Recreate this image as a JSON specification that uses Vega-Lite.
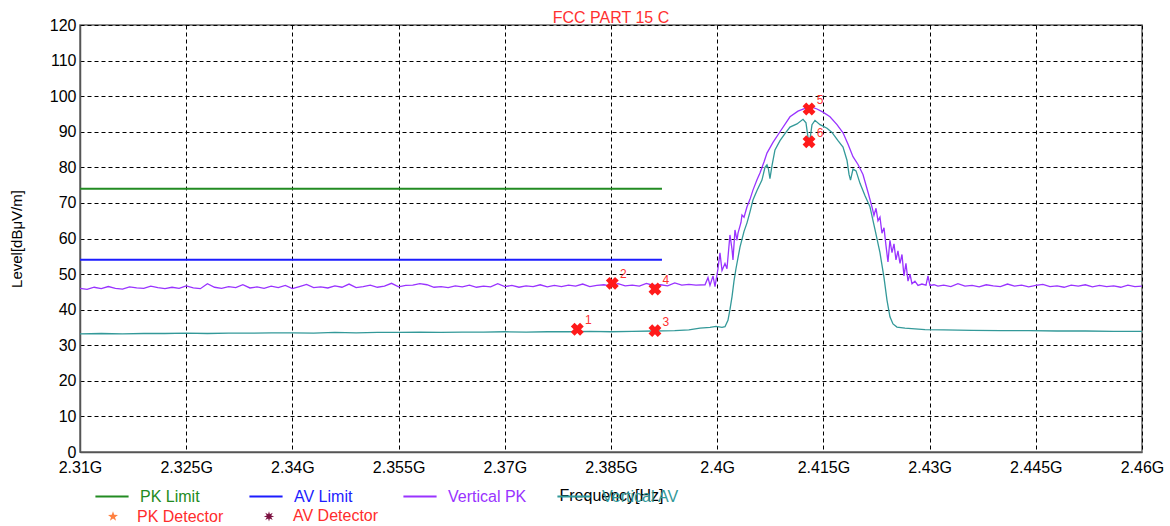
{
"$schema": "https://vega.github.io/schema/vega-lite/v6.json",
"width": 1062, "height": 427,
"autosize": {"type": "none"},
"padding": {"left": 80, "top": 25, "right": 28, "bottom": 74},
"background": "white",
"config": {"font": "Liberation Sans", "view": {"stroke": "#666", "strokeWidth": 1.5}},
"title": {"text": "FCC PART 15 C", "color": "#ff3030", "fontSize": 16, "fontWeight": "normal", "offset": -9, "anchor": "middle", "font": "Liberation Sans"},
"datasets": {
"lim": [{"f":2.31,"v":74,"s":"PK Limit"},{"f":2.3922,"v":74,"s":"PK Limit"},{"f":2.31,"v":54,"s":"AV Limit"},{"f":2.3922,"v":54,"s":"AV Limit"}],
"pk": [
{"f":2.310,"v":46.0},{"f":2.311,"v":45.7},{"f":2.312,"v":46.3},{"f":2.313,"v":45.9},{"f":2.314,"v":46.5},{"f":2.315,"v":46.0},{"f":2.316,"v":45.8},{"f":2.317,"v":46.4},{"f":2.318,"v":46.1},{"f":2.319,"v":46.0},
{"f":2.320,"v":46.6},{"f":2.321,"v":46.2},{"f":2.322,"v":45.9},{"f":2.323,"v":46.3},{"f":2.324,"v":46.0},{"f":2.325,"v":46.7},{"f":2.326,"v":46.1},{"f":2.327,"v":45.9},{"f":2.328,"v":47.3},{"f":2.329,"v":46.3},
{"f":2.330,"v":46.0},{"f":2.331,"v":46.5},{"f":2.332,"v":46.2},{"f":2.333,"v":47.0},{"f":2.334,"v":46.1},{"f":2.335,"v":46.4},{"f":2.336,"v":46.0},{"f":2.337,"v":46.6},{"f":2.338,"v":46.2},{"f":2.339,"v":46.8},
{"f":2.340,"v":45.9},{"f":2.341,"v":46.5},{"f":2.342,"v":47.1},{"f":2.343,"v":46.2},{"f":2.344,"v":46.4},{"f":2.345,"v":46.1},{"f":2.346,"v":46.7},{"f":2.347,"v":46.3},{"f":2.348,"v":47.2},{"f":2.349,"v":46.2},
{"f":2.350,"v":46.5},{"f":2.351,"v":46.9},{"f":2.352,"v":46.3},{"f":2.353,"v":46.6},{"f":2.354,"v":47.4},{"f":2.355,"v":46.4},{"f":2.356,"v":46.8},{"f":2.357,"v":46.9},{"f":2.358,"v":47.3},{"f":2.359,"v":47.0},
{"f":2.360,"v":46.3},{"f":2.361,"v":46.5},{"f":2.362,"v":46.2},{"f":2.363,"v":46.7},{"f":2.364,"v":46.4},{"f":2.365,"v":46.9},{"f":2.366,"v":46.3},{"f":2.367,"v":46.6},{"f":2.368,"v":46.4},{"f":2.369,"v":47.3},
{"f":2.370,"v":46.5},{"f":2.371,"v":46.8},{"f":2.372,"v":46.3},{"f":2.373,"v":46.7},{"f":2.374,"v":46.5},{"f":2.375,"v":47.0},{"f":2.376,"v":46.4},{"f":2.377,"v":46.8},{"f":2.378,"v":46.5},{"f":2.379,"v":46.9},
{"f":2.380,"v":46.6},{"f":2.381,"v":47.2},{"f":2.382,"v":46.5},{"f":2.383,"v":46.8},{"f":2.384,"v":47.0},{"f":2.385,"v":46.6},{"f":2.386,"v":47.3},{"f":2.387,"v":46.7},{"f":2.388,"v":46.9},{"f":2.389,"v":46.6},
{"f":2.390,"v":47.4},{"f":2.391,"v":46.8},{"f":2.392,"v":47.0},{"f":2.393,"v":46.7},{"f":2.394,"v":47.5},{"f":2.395,"v":46.9},{"f":2.396,"v":47.1},{"f":2.397,"v":46.9},
{"f":2.39828,"v":47.0},{"f":2.3987,"v":49.0},{"f":2.39898,"v":46.8},{"f":2.39941,"v":49.5},{"f":2.39969,"v":46.5},{"f":2.40011,"v":51.5},{"f":2.40039,"v":56.0},{"f":2.40068,"v":51.0},{"f":2.4011,"v":53.0},{"f":2.40138,"v":51.5},
{"f":2.4018,"v":61.0},{"f":2.40209,"v":57.0},{"f":2.40223,"v":54.0},{"f":2.40251,"v":62.4},{"f":2.4028,"v":59.5},{"f":2.40294,"v":61.5},{"f":2.40336,"v":64.5},{"f":2.4035,"v":66.6},{"f":2.40379,"v":66.0},{"f":2.40421,"v":68.9},
{"f":2.40463,"v":71.0},{"f":2.40505,"v":73.6},{"f":2.40562,"v":76.5},{"f":2.40604,"v":78.4},{"f":2.40661,"v":81.5},{"f":2.40703,"v":84.0},{"f":2.40788,"v":87.0},{"f":2.40887,"v":90.0},{"f":2.41028,"v":94.2},{"f":2.41141,"v":95.8},
{"f":2.41268,"v":96.8},{"f":2.41339,"v":96.9},{"f":2.41409,"v":96.4},{"f":2.41494,"v":95.5},{"f":2.41593,"v":94.2},{"f":2.41692,"v":92.0},{"f":2.41777,"v":89.7},{"f":2.41848,"v":86.5},{"f":2.41918,"v":83.0},{"f":2.41989,"v":80.8},
{"f":2.42059,"v":78.0},{"f":2.4213,"v":73.0},{"f":2.42186,"v":68.9},{"f":2.42214,"v":66.5},{"f":2.42243,"v":68.5},{"f":2.42271,"v":65.0},{"f":2.42299,"v":66.0},{"f":2.42327,"v":61.5},{"f":2.42356,"v":63.0},{"f":2.42384,"v":58.0},
{"f":2.42412,"v":53.4},{"f":2.4244,"v":59.5},{"f":2.42469,"v":56.0},{"f":2.42497,"v":58.5},{"f":2.42525,"v":54.0},{"f":2.42553,"v":56.5},{"f":2.42582,"v":53.0},{"f":2.4261,"v":55.5},{"f":2.42638,"v":49.5},{"f":2.42666,"v":53.0},
{"f":2.42695,"v":48.0},{"f":2.42723,"v":50.0},{"f":2.42751,"v":47.3},{"f":2.42793,"v":48.0},{"f":2.42836,"v":46.8},{"f":2.42892,"v":47.2},{"f":2.42949,"v":46.9},{"f":2.42977,"v":49.5},{"f":2.43005,"v":46.8},{"f":2.43062,"v":47.0},
{"f":2.43118,"v":46.6},{"f":2.432,"v":46.9},{"f":2.433,"v":46.5},{"f":2.434,"v":47.3},{"f":2.435,"v":46.6},{"f":2.436,"v":46.8},{"f":2.437,"v":46.4},{"f":2.438,"v":47.0},{"f":2.439,"v":46.7},{"f":2.440,"v":46.5},
{"f":2.441,"v":47.2},{"f":2.442,"v":46.6},{"f":2.443,"v":46.9},{"f":2.444,"v":46.4},{"f":2.445,"v":46.8},{"f":2.446,"v":47.1},{"f":2.447,"v":46.5},{"f":2.448,"v":46.7},{"f":2.449,"v":46.3},{"f":2.450,"v":46.9},
{"f":2.451,"v":46.6},{"f":2.452,"v":47.0},{"f":2.453,"v":46.4},{"f":2.454,"v":46.8},{"f":2.455,"v":46.5},{"f":2.456,"v":46.7},{"f":2.457,"v":46.3},{"f":2.458,"v":46.9},{"f":2.459,"v":46.5},{"f":2.460,"v":46.6}
],
"av": [
{"f":2.310,"v":33.2},{"f":2.313,"v":33.3},{"f":2.316,"v":33.2},{"f":2.319,"v":33.3},{"f":2.322,"v":33.3},{"f":2.325,"v":33.4},{"f":2.328,"v":33.3},{"f":2.331,"v":33.4},{"f":2.334,"v":33.4},{"f":2.337,"v":33.5},
{"f":2.340,"v":33.5},{"f":2.343,"v":33.4},{"f":2.346,"v":33.6},{"f":2.349,"v":33.5},{"f":2.352,"v":33.6},{"f":2.355,"v":33.6},{"f":2.358,"v":33.7},{"f":2.361,"v":33.6},{"f":2.364,"v":33.7},{"f":2.367,"v":33.7},
{"f":2.370,"v":33.8},{"f":2.373,"v":33.7},{"f":2.376,"v":33.8},{"f":2.379,"v":33.8},{"f":2.382,"v":33.9},{"f":2.385,"v":33.8},{"f":2.388,"v":33.9},{"f":2.391,"v":34.0},{"f":2.394,"v":34.1},{"f":2.396,"v":34.3},
{"f":2.39757,"v":34.8},{"f":2.39898,"v":35.0},{"f":2.39983,"v":35.3},{"f":2.40068,"v":35.0},{"f":2.4011,"v":35.2},{"f":2.40152,"v":37.0},{"f":2.4018,"v":40.0},{"f":2.40209,"v":43.6},{"f":2.40237,"v":48.0},{"f":2.40265,"v":51.5},
{"f":2.40322,"v":57.6},{"f":2.40379,"v":62.0},{"f":2.40421,"v":64.4},{"f":2.40463,"v":67.5},{"f":2.40505,"v":70.8},{"f":2.40562,"v":73.5},{"f":2.40632,"v":76.4},{"f":2.40675,"v":80.0},{"f":2.40703,"v":80.7},{"f":2.40724,"v":79.5},
{"f":2.40745,"v":76.8},{"f":2.40774,"v":80.5},{"f":2.40816,"v":84.9},{"f":2.40887,"v":87.5},{"f":2.40957,"v":89.5},{"f":2.41028,"v":91.3},{"f":2.41127,"v":92.2},{"f":2.41212,"v":93.5},{"f":2.41254,"v":92.5},{"f":2.41282,"v":88.5},
{"f":2.41297,"v":87.0},{"f":2.41311,"v":88.0},{"f":2.41339,"v":92.0},{"f":2.41381,"v":93.2},{"f":2.41452,"v":92.0},{"f":2.41551,"v":91.0},{"f":2.41621,"v":89.8},{"f":2.41706,"v":87.5},{"f":2.41777,"v":85.7},{"f":2.41833,"v":82.0},
{"f":2.41862,"v":78.0},{"f":2.41883,"v":76.4},{"f":2.41918,"v":79.5},{"f":2.41961,"v":79.0},{"f":2.42017,"v":75.5},{"f":2.42088,"v":72.0},{"f":2.42158,"v":68.9},{"f":2.42229,"v":62.5},{"f":2.42299,"v":56.0},{"f":2.42356,"v":49.0},
{"f":2.42398,"v":42.7},{"f":2.4244,"v":38.0},{"f":2.42483,"v":36.0},{"f":2.42539,"v":35.1},{"f":2.42652,"v":34.8},{"f":2.42793,"v":34.6},{"f":2.42935,"v":34.4},{"f":2.432,"v":34.3},{"f":2.436,"v":34.2},{"f":2.440,"v":34.1},
{"f":2.444,"v":34.1},{"f":2.448,"v":34.0},{"f":2.452,"v":34.0},{"f":2.456,"v":33.9},{"f":2.460,"v":33.9}
],
"mk": [
{"f":2.38024,"v":34.5,"n":"1","d":"AV Detector"},{"f":2.38518,"v":47.4,"n":"2","d":"PK Detector"},{"f":2.39121,"v":34.1,"n":"3","d":"AV Detector"},{"f":2.39121,"v":45.8,"n":"4","d":"PK Detector"},{"f":2.41297,"v":96.4,"n":"5","d":"PK Detector"},{"f":2.41297,"v":87.2,"n":"6","d":"AV Detector"}
]
},
"encoding": {
"x": {"field": "f", "type": "quantitative",
 "scale": {"domain": [2.31, 2.46], "nice": false, "zero": false},
 "axis": {"values": [2.31, 2.325, 2.34, 2.355, 2.37, 2.385, 2.4, 2.415, 2.43, 2.445, 2.46],
  "labelExpr": "format(datum.value, '.4~f') + 'G'",
  "title": "Frequency[Hz]", "grid": true, "gridDash": [4, 3], "gridColor": "#000", "gridOpacity": 1, "gridWidth": 1,
  "domainColor": "#555", "domainWidth": 1.5, "ticks": false, "labelPadding": 7,
  "labelFontSize": 16, "labelColor": "#000", "labelFlush": false, "labelOverlap": false,
  "titleFontSize": 16, "titleFontWeight": "normal", "titleColor": "#000", "titlePadding": 12}},
"y": {"field": "v", "type": "quantitative",
 "scale": {"domain": [0, 120], "nice": false},
 "axis": {"values": [0,10,20,30,40,50,60,70,80,90,100,110,120],
  "title": "Level[dBμV/m]", "grid": true, "gridDash": [4, 3], "gridColor": "#000", "gridOpacity": 1, "gridWidth": 1,
  "domainColor": "#555", "domainWidth": 1.5, "ticks": false, "labelPadding": 4,
  "labelFontSize": 16, "labelColor": "#000",
  "titleFontSize": 15, "titleFontWeight": "normal", "titleColor": "#000", "titlePadding": 25}}
},
"layer": [
{"data": {"name": "lim"}, "mark": {"type": "line", "strokeWidth": 2},
 "encoding": {"color": {"field": "s", "type": "nominal",
  "scale": {"domain": ["PK Limit","AV Limit","Vertical PK","Vertical AV"],
            "range": ["#228b22","#1c1cff","#9933ff","#339999"]},
  "legend": {"orient": "none", "legendX": 14, "legendY": 453.5, "direction": "horizontal", "columns": 4, "title": null,
   "symbolType": "stroke", "symbolSize": 1100, "symbolStrokeWidth": 2, "labelFontSize": 16, "labelOffset": 10,
   "columnPadding": 26, "gridAlign": "all", "labelLimit": 300,
   "encode": {
    "labels": {"update": {"fill": {"signal": "datum.value === 'PK Limit' ? '#228b22' : datum.value === 'AV Limit' ? '#1c1cff' : datum.value === 'Vertical PK' ? '#9933ff' : '#339999'"}}}
   }}},
  "detail": {"field": "s"}}},
{"data": {"name": "pk"}, "mark": {"type": "line", "strokeWidth": 1.3},
 "encoding": {"color": {"datum": "Vertical PK", "type": "nominal"}}},
{"data": {"name": "av"}, "mark": {"type": "line", "strokeWidth": 1.3},
 "encoding": {"color": {"datum": "Vertical AV", "type": "nominal"}}},
{"data": {"name": "mk"}, "mark": {"type": "point", "opacity": 0, "filled": true},
 "encoding": {
  "shape": {"field": "d", "type": "nominal",
   "scale": {"domain": ["PK Detector", "AV Detector"], "range": ["M0,-1L0.235,-0.324L0.951,-0.309L0.38,0.124L0.588,0.809L0,0.4L-0.588,0.809L-0.38,0.124L-0.951,-0.309L-0.235,-0.324Z", "M0,-1L0.17,-0.42L0.71,-0.71L0.42,-0.17L1,0L0.42,0.17L0.71,0.71L0.17,0.42L0,1L-0.17,0.42L-0.71,0.71L-0.42,0.17L-1,0L-0.42,-0.17L-0.71,-0.71L-0.17,-0.42Z"]},
   "legend": {"orient": "none", "legendX": 25, "legendY": 483, "direction": "horizontal", "columns": 2, "title": null,
    "symbolSize": 110, "symbolOpacity": 1, "labelFontSize": 16, "labelOffset": 16, "labelColor": "#ff2d2d", "columnPadding": 36, "labelLimit": 300}},
  "fill": {"field": "d", "type": "nominal",
   "scale": {"domain": ["PK Detector", "AV Detector"], "range": ["#ff8040", "#7b1040"]},
   "legend": {"orient": "none", "legendX": 25, "legendY": 483, "direction": "horizontal", "columns": 2, "title": null,
    "symbolSize": 110, "symbolOpacity": 1, "labelFontSize": 16, "labelOffset": 16, "labelColor": "#ff2d2d", "columnPadding": 36, "labelLimit": 300}}}},
{"data": {"name": "mk"}, "mark": {"type": "point", "shape": "cross", "angle": 45, "filled": true, "size": 170, "color": "#ff1a1a", "opacity": 1},
 "encoding": {}},
{"data": {"name": "mk"}, "mark": {"type": "text", "dx": 11, "dy": -9, "fontSize": 12, "color": "#ff3030"},
 "encoding": {"text": {"field": "n"}}}
]
}
